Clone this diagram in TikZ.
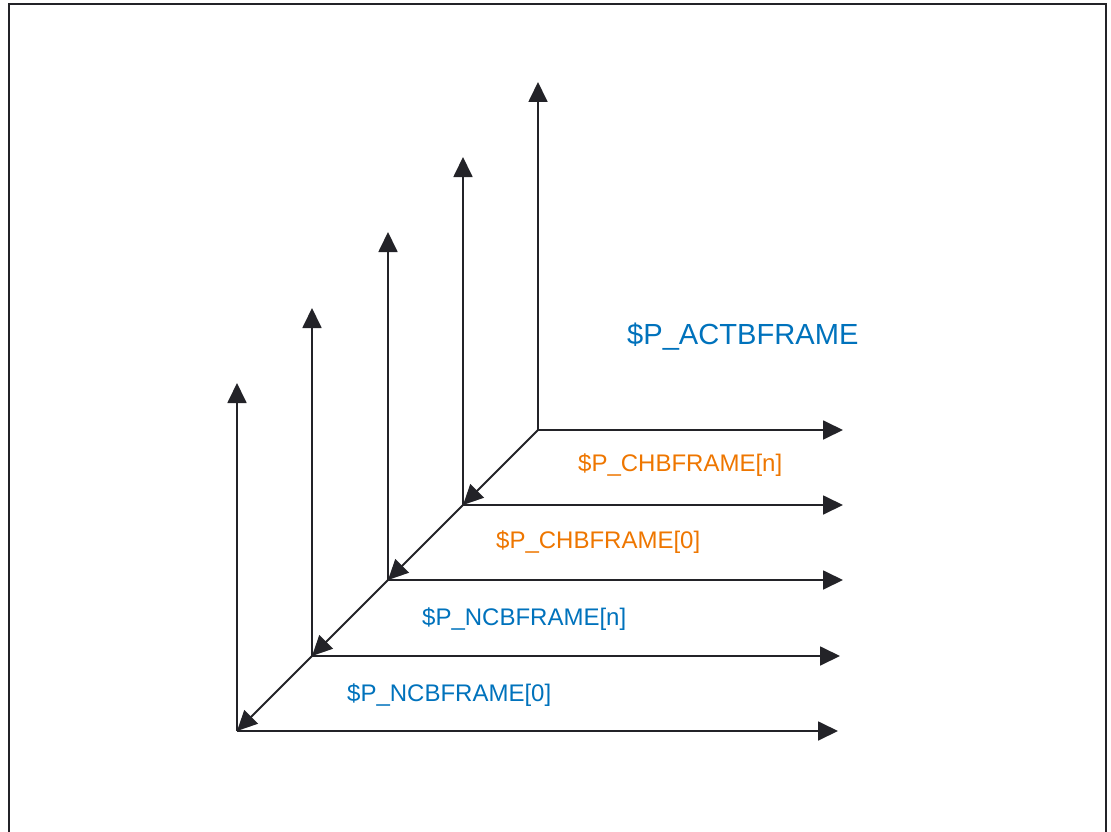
\documentclass[tikz,border=0pt]{standalone}
\usepackage{fontspec}
\setmainfont{Liberation Sans}
\usetikzlibrary{arrows.meta}
\definecolor{frameblue}{RGB}{0,114,188}
\definecolor{frameorange}{RGB}{238,118,0}
\definecolor{linegray}{RGB}{35,35,40}
\begin{document}
\begin{tikzpicture}[x=1pt,y=-1pt,
  axis/.style={draw=linegray,line width=1.8pt,-{Triangle[length=20pt,width=19pt]}},
  border/.style={draw=linegray,line width=2pt},
  bluelbl/.style={text=frameblue,inner sep=0pt,anchor=base west},
  orangelbl/.style={text=frameorange,inner sep=0pt,anchor=base west}]
\useasboundingbox (0,0) rectangle (1111,832);
% frame border (bottom edge lies outside the picture)
\draw[border] (9,845) -- (9,4) -- (1106,4) -- (1106,845);
% origins
\coordinate (o4) at (538,430);
\coordinate (o3) at (463,505);
\coordinate (o2) at (388,580);
\coordinate (o1) at (312,656);
\coordinate (o0) at (237,731);
% vertical tips
\coordinate (v4) at (538,82);
\coordinate (v3) at (463,157);
\coordinate (v2) at (388,232);
\coordinate (v1) at (312,308);
\coordinate (v0) at (237,383);
% horizontal tips
\coordinate (h4) at (843,430);
\coordinate (h3) at (843,505);
\coordinate (h2) at (843,580);
\coordinate (h1) at (840,656);
\coordinate (h0) at (838,731);
\foreach \i in {0,...,4}{
  \draw[axis] (o\i) -- (v\i);
  \draw[axis] (o\i) -- (h\i);
}
\draw[axis] (o4) -- (o3);
\draw[axis] (o3) -- (o2);
\draw[axis] (o2) -- (o1);
\draw[axis] (o1) -- (o0);
% labels
\node[bluelbl,font=\fontsize{29.1}{31}\selectfont] (act) at (627,344) {\$P\_ACTBFRAME};
\node[orangelbl,font=\fontsize{24}{26}\selectfont] (chn) at (578,471) {\$P\_CHBFRAME[n]};
\node[orangelbl,font=\fontsize{24}{26}\selectfont] (ch0) at (496,548) {\$P\_CHBFRAME[0]};
\node[bluelbl,font=\fontsize{24}{26}\selectfont] (ncn) at (422,625) {\$P\_NCBFRAME[n]};
\node[bluelbl,font=\fontsize{24}{26}\selectfont] (nc0) at (347,701) {\$P\_NCBFRAME[0]};
\end{tikzpicture}
\end{document}
